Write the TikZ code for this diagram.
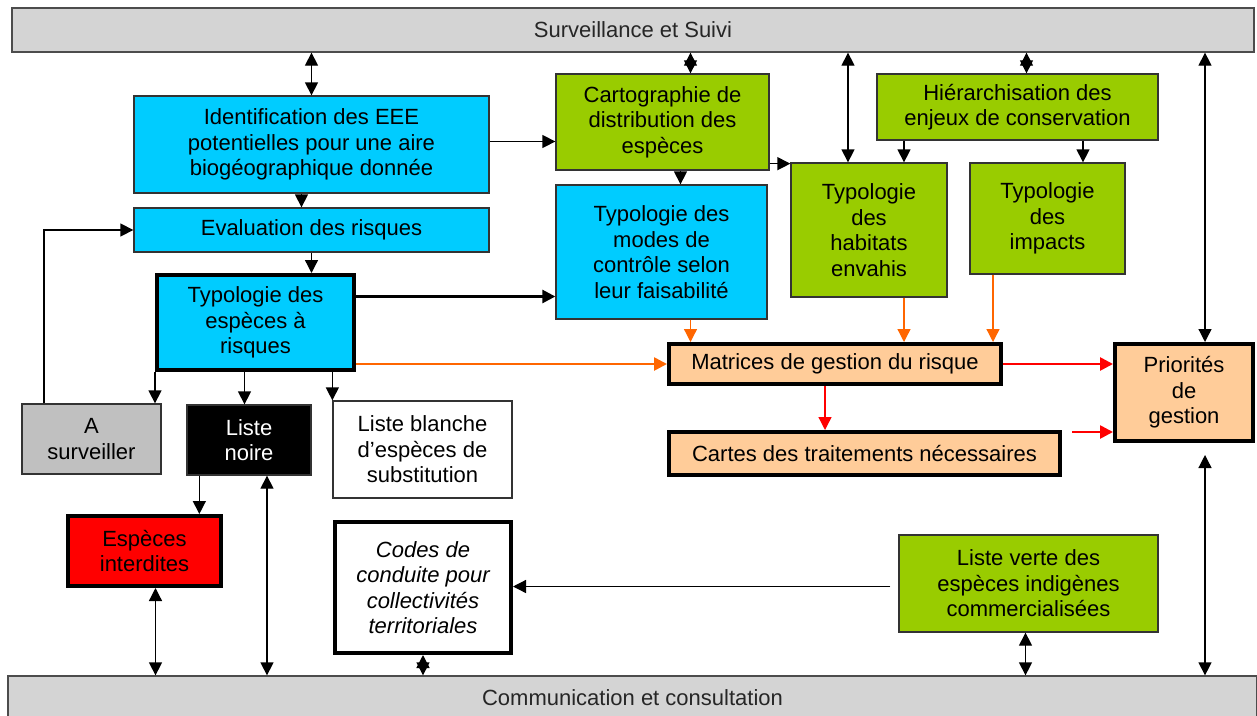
\documentclass[tikz,border=0pt]{standalone}
\usepackage{fontspec}
\setmainfont{Liberation Sans}
\usetikzlibrary{arrows.meta}
\definecolor{cyanbox}{HTML}{00CCFF}
\definecolor{greenbox}{HTML}{99CC00}
\definecolor{peach}{HTML}{FFCC99}
\definecolor{graybox}{HTML}{C0C0C0}
\definecolor{bargray}{HTML}{D4D4D4}
\definecolor{orangearr}{HTML}{FF6600}
\begin{document}
\begin{tikzpicture}[x=1pt,y=-1pt,
  font=\fontsize{22}{25.5}\selectfont,
  box/.style={rectangle,draw=black!80,line width=1.3pt,align=center,inner sep=1pt},
  thick box/.style={box,draw=black,line width=4pt},
  bar/.style={rectangle,draw=black!70,line width=1.3pt,fill=bargray,text=black!85},
  arr/.style={line width=1.3pt,-{Triangle[length=13pt,width=13pt]}},
  dbl/.style={line width=1.3pt,{Triangle[length=13pt,width=13pt]}-{Triangle[length=13pt,width=13pt]}},
  oarr/.style={arr,draw=orangearr,-{Triangle[length=13pt,width=13pt,fill=orangearr]}},
  rarr/.style={arr,draw=red,-{Triangle[length=13pt,width=13pt,fill=red]}}]
  \useasboundingbox (0,0) rectangle (1257,715);

  \node[bar,minimum width=1242,minimum height=44] (0) at (633,30) {Surveillance et Suivi};
  \node[box,fill=cyanbox,minimum width=355,minimum height=97] (1) at (311.5,144.5) {Identification des EEE\\potentielles pour une aire\\biogéographique donnée};
  \node[box,fill=cyanbox,minimum width=355,minimum height=44] (2) at (311.5,230) {Evaluation des risques};
  \node[thick box,fill=cyanbox,minimum width=197,minimum height=95] (3) at (255.5,322.5) {Typologie des\\espèces à\\risques};
  \node[box,fill=greenbox,minimum width=213,minimum height=96] (4) at (662.5,122) {Cartographie de\\distribution des\\espèces};
  \node[box,fill=cyanbox,minimum width=211,minimum height=134] (5) at (661.5,252) {Typologie des\\modes de\\contrôle selon\\leur faisabilité};
  \node[box,fill=greenbox,minimum width=156,minimum height=134] (6) at (869,230) {Typologie\\des\\habitats\\envahis};
  \node[box,fill=greenbox,minimum width=281,minimum height=66] (7) at (1017.5,107) {Hiérarchisation des\\enjeux de conservation};
  \node[box,fill=greenbox,minimum width=155,minimum height=111] (8) at (1047.5,218.5) {Typologie\\des\\impacts};
  \node[thick box,fill=peach,minimum width=332,minimum height=40] (9) at (835,364) {Matrices de gestion du risque};
  \node[thick box,fill=peach,minimum width=138,minimum height=97] (10) at (1184,392.5) {Priorités\\de\\gestion};
  \node[thick box,fill=peach,minimum width=391,minimum height=43] (11) at (864.5,453.5) {Cartes des traitements nécessaires};
  \node[box,fill=graybox,minimum width=139,minimum height=70] (12) at (91.5,439) {A\\surveiller};
  \node[box,fill=black,text=white,minimum width=124,minimum height=70] (13) at (249,440) {Liste\\noire};
  \node[box,fill=white,minimum width=179,minimum height=97] (14) at (422.5,449.5) {Liste blanche\\d’espèces de\\substitution};
  \node[thick box,fill=red,minimum width=153,minimum height=70] (15) at (144.5,551) {Espèces\\interdites};
  \node[thick box,fill=white,font=\fontsize{22}{25.5}\selectfont\itshape,minimum width=176,minimum height=131] (16) at (423,587.5) {Codes de\\conduite pour\\collectivités\\territoriales};
  \node[box,fill=greenbox,minimum width=259,minimum height=97] (17) at (1028.5,583.5) {Liste verte des\\espèces indigènes\\commercialisées};
  \node[bar,minimum width=1249,minimum height=44] (18) at (632.5,698) {Communication et consultation};

  \draw[dbl] (0.south -| 1.north) -- (1.north);
  \draw[arr] ([xshift=-10]1.south) -- ([xshift=-10]2.north);
  \draw[arr] (2.south) -- (2.south |- 3.north);
  \draw[arr] ([yshift=3]1.east) -- ([yshift=3]1.east -| 4.west);
  \draw[arr,line width=2.6pt] ([yshift=26]3.east) -- ([yshift=26]3.east -| 5.west);
  \draw[oarr,line width=2.6pt] (3.east |- 9.west) -- (9.west);
  \draw[arr] (3.south west) -- (3.south west |- 12.north);
  \draw[arr] ([xshift=-11]3.south) -- ([xshift=-11]3.south |- 13.north);
  \draw[arr] (14.north west |- 3.south) -- (14.north west);
  \draw[arr] ([xshift=-47.5]12.north) |- (2.west);
  \draw[arr] ([xshift=13]13.south west) -- ([xshift=13]13.south west |- 15.north);
  \draw[dbl] ([xshift=11]15.south) -- ([xshift=11]15.south |- 18.north);
  \draw[dbl] ([xshift=18]13.south) -- ([xshift=18]13.south |- 18.north);
  \draw[dbl] (16.south) -- (16.south |- 18.north);
  \coordinate (v) at ([xshift=-8,yshift=-3]17.west);
  \draw[arr] (v) -- (v -| 16.east);
  \draw[dbl] ([xshift=-3]17.south) -- ([xshift=-3]17.south |- 18.north);
  \draw[dbl] ([xshift=21,yshift=-12]10.south) -- ([xshift=21]10.south |- 18.north);
  \draw[dbl] ([xshift=21]10.north |- 0.south) -- ([xshift=21]10.north);
  \draw[dbl] ([xshift=28]4.north |- 0.south) -- ([xshift=28]4.north);
  \draw[dbl] ([xshift=-21]6.north |- 0.south) -- ([xshift=-21]6.north);
  \draw[dbl] ([xshift=9]7.north |- 0.south) -- ([xshift=9]7.north);
  \draw[arr] ([xshift=18]4.south) -- ([xshift=18]4.south |- 5.north);
  \draw[arr] ([yshift=7]4.south east) -- ([yshift=7]4.south east -| 6.west);
  \draw[arr] ([xshift=35]6.north |- 7.south) -- ([xshift=35]6.north);
  \draw[arr] ([xshift=35.5]8.north |- 7.south) -- ([xshift=35.5]8.north);
  \draw[oarr] ([xshift=29]5.south) -- ([xshift=29]5.south |- 9.north);
  \draw[oarr] ([xshift=35]6.south) -- ([xshift=35]6.south |- 9.north);
  \draw[oarr] ([xshift=-54.5]8.south) -- ([xshift=-54.5]8.south |- 9.north);
  \draw[rarr,line width=2.6pt] (9.east) -- (9.east -| 10.west);
  \draw[rarr] ([xshift=-10]9.south) -- ([xshift=-10]9.south |- 11.north);
  \coordinate (c) at ([xshift=10,yshift=21.5]11.east);
  \draw[rarr,line width=2.6pt] (c) -- (c -| 10.west);
\end{tikzpicture}
\end{document}
